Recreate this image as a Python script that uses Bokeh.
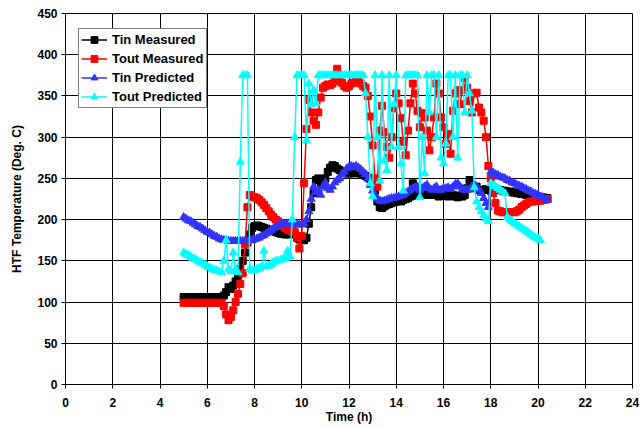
import numpy as np
from bokeh.plotting import figure
from bokeh.models import FixedTicker, Legend, LegendItem, Range1d
from bokeh.embed import file_html
from bokeh.resources import INLINE

nan = float("nan")

# sampling hours (every 0.1 h from 5.0 h to 20.4 h)
hours = np.round(np.arange(5.0, 20.45, 0.1), 1)

tin_measured = [
    106, 106, 106, 106, 106, 106, 106, 106, 106, 106, 106, 106, 106, 106, 106, 106, 106, 108,
    112, 118, 116, 120, 125, 130, 140, 150, 160, 172, 182, 190,
    192, 193, 192, 191, 190, 189, 188, 187, 186, 185,
    184, 183, 183, 182, 182, 183, 184, 182, 178, 176,
    176, 175, 178, 195, 215, 232, 248, 250, 245, 243,
    250, 258, 263, 266, 265, 262, 260, 258, 257, 256,
    256, 256, 257, 257, 256, 256, 255, 253, 251, 249,
    246, 235, 222, 215, 214, 216, 218, 219, 220, 221,
    222, 223, 222, 224, 225, 226, 228, 244, 229, 230,
    231, 230, 232, 231, 230, 232, 233, 230, 228, 229,
    231, 230, 228, 229, 230, 228, 227, 229, 228, 230,
    238, 248, 242, 238, 240, 236, 235, 236, 237, 236,
    235, 236, 237, 236, 236, 235, 235, 234, 234, 233,
    233, 232, 232, 231, 231, 230, 230, 229, 229, 228,
    228, 227, 227, 226, 226,
]

tout_measured = [
    99, 99, 99, 99, 99, 99, 99, 99, 99, 99, 99, 99, 99, 99, 99, 99, 99,
    95, 85, 78,
    82, 90, 100, 110, 122, 135, 170, 215, 230, 228,
    227, 226, 224, 221, 218, 214, 210, 206, 203, 200,
    198, 195, 192, 190, 188, 187, 186, 185, 178, 165,
    180, 244, 310, 345, 330, 320, 315, 330, 348, 360,
    362, 364, 363, 365, 368, 383, 370, 366, 362, 360,
    362, 365, 366, 368, 367, 365, 362, 360, 350, 325,
    290, 250, 240, 308, 338, 306, 288, 275, 300, 335,
    353, 341, 323, 294, 278, 308, 341, 365, 353, 332,
    312, 329, 324, 308, 284, 300, 324, 365, 353, 324,
    312, 292, 304, 280, 332, 353, 357, 340, 357, 372,
    360, 344, 330, 353, 354, 336, 330, 320, 300, 265,
    250, 232, 220, 211, 210, 209, 209, 209, 209, 209,
    209, 210, 212, 215, 217, 219, 221, 222, 222, 223,
    223, 223, 224, 224, 225,
]

tin_predicted = [
    203, 201, 199, 198, 196, 194, 192, 191, 189, 187,
    185, 184, 182, 180, 179, 177, 176, 175, 175, 174,
    174, 174, 174, 174, 174, 174, 174, 174, 175, 175,
    176, 177, 178, 180, 181, 183, 185, 187, 189, 191,
    193, 194, 195, 195, 195, 195, 195, 194, 194, 194,
    194, 195, 200, 210, 225, 240, 233, 236, 230, 240,
    245, 238, 236, 240, 245, 248, 250, 255, 258, 262,
    264, 265, 264, 265, 263, 261, 258, 255, 250, 242,
    235, 230, 225, 223, 222, 223, 224, 225, 226, 226,
    227, 228, 229, 230, 232, 234, 236, 238, 239, 240,
    236, 238, 240, 242, 238, 236, 238, 240, 236, 236,
    238, 238, 239, 237, 240, 243, 244, 240, 237, 236,
    236, 237, 240, 242, 240, 236, 232, 226, 220, 215,
    258, 257, 255, 254, 252, 251, 250, 248, 247, 245,
    244, 242, 241, 240, 238, 237, 235, 234, 232, 231,
    230, 228, 227, 225, 224,
]

tout_predicted = [
    160, 158, 157, 155, 153, 152, 150, 148, 147, 145,
    143, 142, 140, 139, 138, 137, 136, 150, 175, 140,
    137, 160, 140, 136, 270, 375, 375, 375, 140, 138,
    138, 140, 141, 143, 162, 143, 144, 146, 148, 150,
    150, 151, 152, 153, 162, 155, 200, 300, 375, 375,
    375, 375, 296, 365, 340, 357, 341, 375, 375, 375,
    375, 375, 375, 375, 375, 375, 375, 375, 375, 375,
    375, 375, 375, 375, 375, 375, 375, 353, 300, 244,
    228, 375, 300, 247, 375, 272, 260, 375, 288, 340,
    375, 288, 268, 235, 375, 375, 375, 375, 375, 375,
    227, 300, 256, 375, 330, 375, 375, 300, 375, 275,
    268, 292, 375, 375, 300, 375, 275, 375, 375, 330,
    375, 353, 332, 239, 222, 215, 210, 205, 201, 198,
    244, 242, 240, 238, 236, 234, 232, 203, 200, 198,
    196, 194, 192, 190, 188, 186, 184, 182, 180, 178,
    177, 175, nan, nan, nan,
]

x_ticks = list(range(0, 25, 2))
y_ticks = list(range(0, 451, 50))

FONT = "Liberation Sans"

p = figure(width=641, height=427, output_backend="svg", toolbar_location=None,
           x_range=Range1d(0, 24), y_range=Range1d(0, 450),
           min_border_left=65, min_border_right=9, min_border_top=13,
           min_border_bottom=43, background_fill_color="white",
           border_fill_color="white")

p.outline_line_color = "black"
for ax in (p.xaxis[0], p.yaxis[0]):
    ax.axis_line_color = "black"
    ax.axis_line_width = 1
    ax.major_tick_line_color = "black"
    ax.major_tick_out = 4
    ax.major_tick_in = 0
    ax.minor_tick_line_color = None
    ax.major_label_text_font = FONT
    ax.major_label_text_font_style = "bold"
    ax.major_label_text_font_size = "12px"
    ax.major_label_text_color = "black"
    ax.axis_label_text_font = FONT
    ax.axis_label_text_font_style = "bold"
    ax.axis_label_text_font_size = "12px"
    ax.axis_label_text_color = "black"

p.xaxis.ticker = FixedTicker(ticks=x_ticks)
p.yaxis.ticker = FixedTicker(ticks=y_ticks)
p.xaxis.axis_label = "Time (h)"
p.yaxis.axis_label = "HTF Temperature (Deg. C)"
p.xaxis.major_label_standoff = 9
p.xaxis.axis_label_standoff = 0
p.yaxis.major_label_standoff = 4
p.yaxis.axis_label_standoff = 10

for g in (p.xgrid[0], p.ygrid[0]):
    g.grid_line_color = "black"
    g.grid_line_width = 1
    g.grid_line_alpha = 1.0
    g.ticker = FixedTicker(ticks=x_ticks if g is p.xgrid[0] else y_ticks)

series = [
    ("Tin Measured", tin_measured, "#000000", "square", 7),
    ("Tout Measured", tout_measured, "#FF0000", "square", 7),
    ("Tin Predicted", tin_predicted, "#3333FF", "triangle", 8),
    ("Tout Predicted", tout_predicted, "#00FFFF", "triangle", 8),
]

items = []
for name, vals, col, marker, size in series:
    lr = p.line(hours, vals, line_color=col, line_width=1.5)
    sr = p.scatter(hours, vals, marker=marker, size=size, fill_color=col,
                   line_color=col, line_width=1)
    items.append(LegendItem(label=name, renderers=[lr, sr]))

legend = Legend(items=items, location=(13, 276), margin=0)
legend.border_line_color = "black"
legend.border_line_width = 1
legend.background_fill_color = "white"
legend.background_fill_alpha = 1.0
legend.label_text_font = FONT
legend.label_text_font_style = "bold"
legend.label_text_font_size = "13px"
legend.label_text_color = "black"
legend.padding = 2
legend.spacing = 2
legend.glyph_width = 26
legend.glyph_height = 17
legend.label_height = 17
legend.label_standoff = 5
p.add_layout(legend, "center")

open("out.html", "w").write(file_html(p, INLINE))
